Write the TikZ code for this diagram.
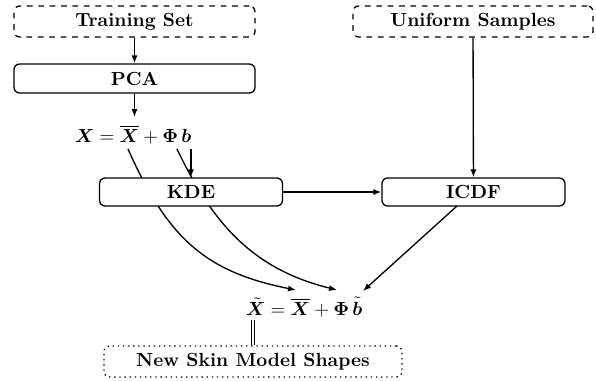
\documentclass[tikz,border=0pt]{standalone}
\usepackage{bm}
\usetikzlibrary{arrows.meta,backgrounds}
\def\u{0.526pt}
\begin{document}
\begin{tikzpicture}[x=\u,y=-\u, line width=0.7pt,
  box/.style={draw, line width=0.7pt, rounded corners=3pt, fill=white, inner sep=0pt, font=\bfseries, align=center},
  arr/.style={line width=0.7pt, -{Latex[length=4.2pt,width=3.2pt]}}]
\path[use as bounding box] (0,0) rectangle (596,381);
% nodes
\node[box,dashed,minimum width={241*\u},minimum height={31*\u}] (train) at (134.5,21.5) {Training Set};
\node[box,minimum width={241*\u},minimum height={29*\u}] (pca) at (134.5,78.5) {PCA};
\node[inner sep=0pt,anchor=base] (eq) at (133,142) {$\bm{X} = \overline{\bm{X}} + \bm{\Phi}\,\bm{b}$};
\node[box,minimum width={183*\u},minimum height={28*\u}] (kde) at (191,192) {KDE};
\node[box,minimum width={183*\u},minimum height={28*\u}] (icdf) at (473.5,192) {ICDF};
\node[box,dashed,minimum width={240*\u},minimum height={31*\u}] (unif) at (473,21.5) {Uniform Samples};
\node[inner sep=0pt,anchor=base] (eqt) at (304,315) {$\tilde{\bm{X}} = \overline{\bm{X}} + \bm{\Phi}\,\tilde{\bm{b}}$};
\node[box,dotted,minimum width={298*\u},minimum height={31*\u}] (skin) at (253,361.5) {New Skin Model Shapes};
% coordinates
\coordinate (eqtop) at (134.5,117);
\coordinate (xbar) at (128,149);
\coordinate (phi) at (177,149);
\coordinate (bb) at (191,149);
\coordinate (xbar2) at (296,290);
\coordinate (phi2) at (337,290);
\coordinate (bt) at (363,291);
\coordinate (icdfout) at (457,206);
\coordinate (xt) at (253,320);
% connectors
\draw[arr] (train) -- (pca);
\draw[arr] (pca) -- (eqtop);
\draw[arr] (bb) -- (kde.north);
\draw[arr] (kde) -- (icdf);
\draw[arr] (unif) -- (icdf);
\draw[arr] (icdfout) -- (bt);
\draw[double, double distance=1.2pt, line width=0.5pt] (xt) -- (skin.north);
\begin{pgfonlayer}{background}
\draw[arr] (xbar) .. controls (168,239) and (206,272) .. (xbar2);
\draw[arr] (phi) .. controls (215,229) and (257,270) .. (phi2);
\end{pgfonlayer}
\end{tikzpicture}
\end{document}
